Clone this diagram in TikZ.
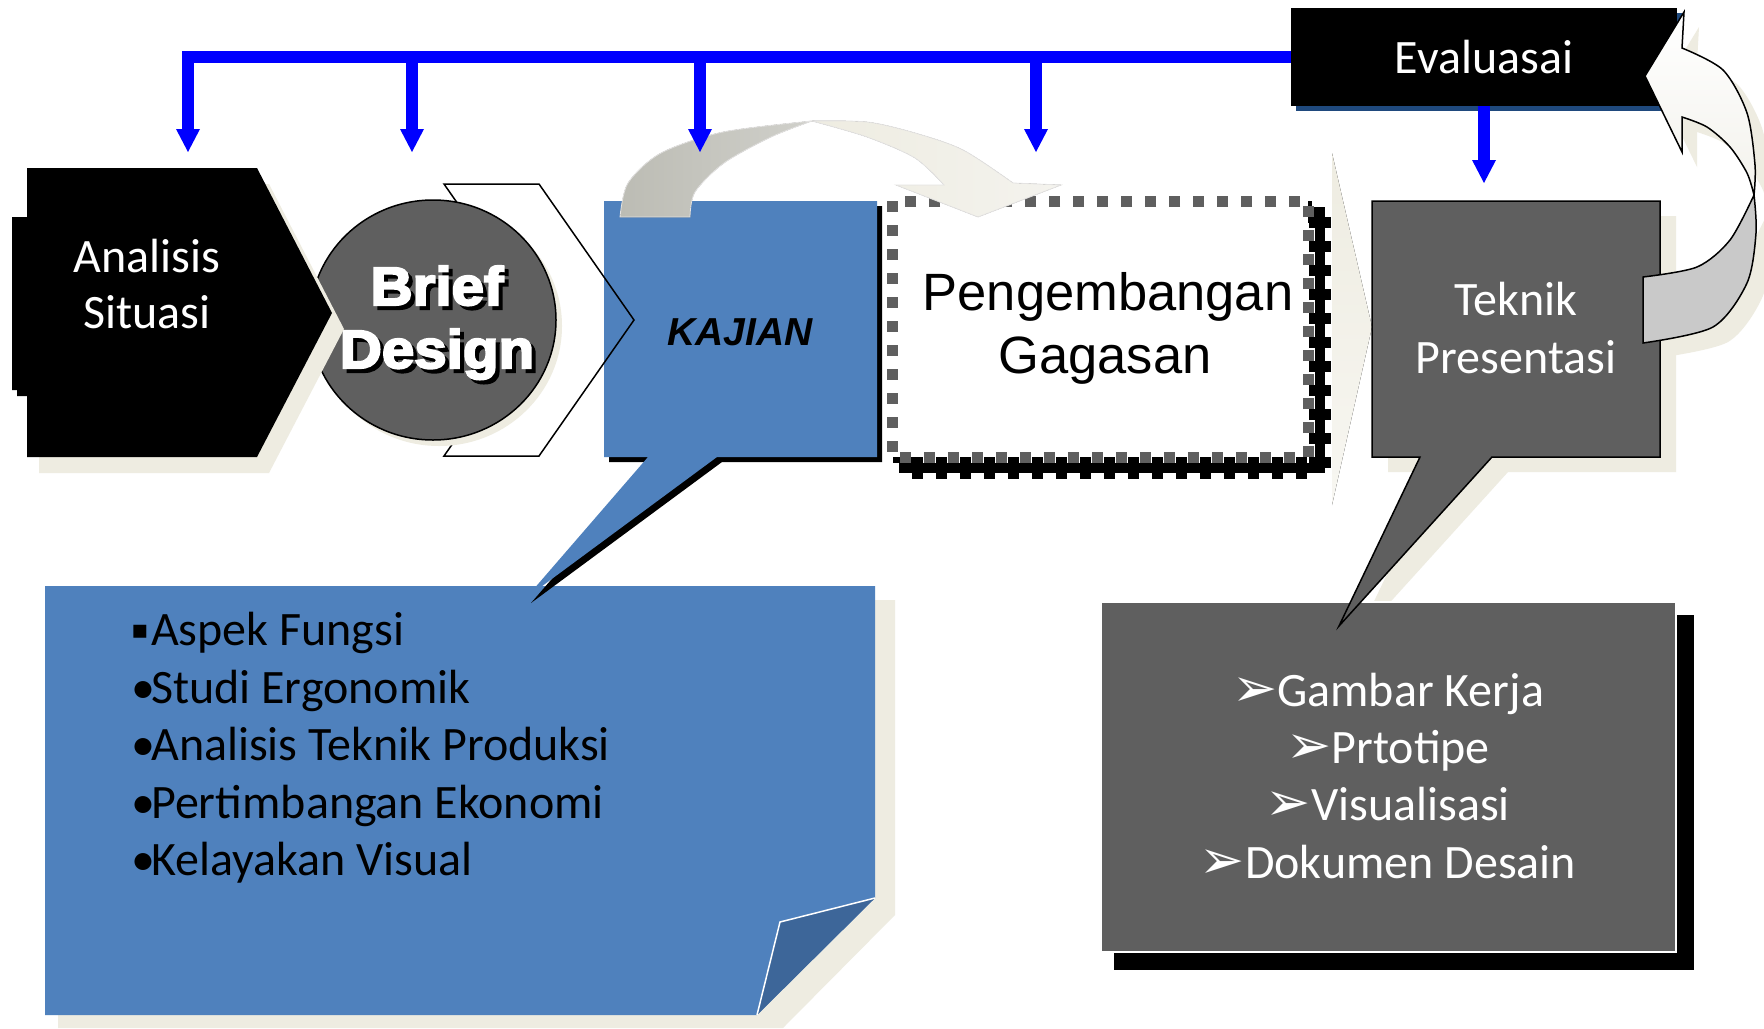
\documentclass[tikz,border=0pt]{standalone}
\usepackage{fontspec}
\setmainfont{Carlito}
\newfontfamily\arialfont{Liberation Sans}
\newfontfamily\heavyfont{Liberation Sans Bold}[FakeBold=4,FakeStretch=1.08]
\newfontfamily\symbolfont{DejaVu Sans}
\usetikzlibrary{arrows.meta}

\definecolor{panelgray}{HTML}{5F5F5F}
\definecolor{noteblue}{HTML}{4F81BD}
\definecolor{foldblue}{HTML}{3D6699}
\definecolor{softshadow}{HTML}{EEECE1}
\definecolor{navy}{HTML}{1F497D}
\definecolor{ribbongray}{HTML}{C9C9C9}
\definecolor{ribbonlight}{HTML}{F3F2EC}
\definecolor{linkblue}{HTML}{0000FF}
\definecolor{arcgray}{HTML}{BCBCB4}
\definecolor{arclight}{HTML}{F4F3EE}

% a heavy white word with a black drop shadow behind it
\newcommand{\shadowword}[1]{\rlap{\kern4pt\raisebox{-4pt}{\color{black}#1}}{\color{white}#1}}
% 3-D arrowhead bullet
\newcommand{\arrowbullet}{{\symbolfont\fontsize{54}{54}\selectfont ➢}}

\begin{document}
\begin{tikzpicture}[x=1pt,y=-1pt,
  txt/.style={inner sep=0pt, anchor=base},
  calibri/.style={txt, font=\fontsize{48}{56}\selectfont},
  listline/.style={calibri, anchor=base west},
  arialtxt/.style={txt, font=\arialfont\fontsize{52.5}{60}\selectfont},
  heavytxt/.style={txt, font=\heavyfont\fontsize{54}{60}\selectfont},
  outlined/.style={draw=black, line width=1.5pt, line join=miter},
  linkline/.style={draw=linkblue, line width=11.5pt, line join=miter,
    -{Triangle[width=24pt,length=23pt,line width=0pt]}},
  arcedge/.style={draw=white!88!softshadow!90!black, line width=0.8pt}
]
\useasboundingbox (0,0) rectangle (1764,1028);
\fill[white] (0,0) rectangle (1764,1028);

% ---------- soft beige shadows ----------
% note panel
\fill[softshadow] (58,600) -- (895,600) -- (895,915) -- (783,1028) -- (58,1028) -- cycle;
% Teknik Presentasi callout
\fill[softshadow, shift={(16,15)}] (1372,201) -- (1660,201) -- (1660,457) -- (1492,457)
  -- (1339,626) -- (1420,457) -- (1372,457) -- cycle;
% return ribbon
\begin{scope}[shift={(15,15)}]
  \fill[softshadow] plot[smooth] coordinates {(1643,343) (1713,327) (1747,283) (1756,233) (1754,195)}
    -- plot[smooth] coordinates {(1754,195) (1730,240) (1697,267) (1643,277)} -- cycle;
  \fill[softshadow] plot[smooth] coordinates {(1754,195) (1755,165) (1747,113) (1723,70) (1682,48)}
    -- (1684,12) -- (1645,76) -- (1682,152) -- (1682,117)
    -- plot[smooth] coordinates {(1682,117) (1707,127) (1730,147) (1747,173) (1754,195)} -- cycle;
\end{scope}
% faint chevron between the idea box and the presentation box
\fill[top color=softshadow, bottom color=softshadow!45!white] (1332,153) -- (1372,327) -- (1332,505) -- cycle;

% ---------- note panel with folded corner ----------
\fill[noteblue] (45,586) -- (875,586) -- (875,898) -- (757,1015) -- (45,1015) -- cycle;
\fill[foldblue] (875,898) -- (780,922) -- (757,1015) -- cycle;
\draw[white, line width=1.5pt] (875,898) -- (780,922) -- (757,1015);
\node[listline] (asp) at (131,645) {\makebox[20pt][l]{\raisebox{7pt}{\symbolfont\fontsize{26}{26}\selectfont ▪}}Aspek Fungsi};
\node[listline] (stu) at (131,703) {\makebox[20pt][l]{•}Studi Ergonomik};
\node[listline] (ana) at (131,760) {\makebox[20pt][l]{•}Analisis Teknik Produksi};
\node[listline] (per) at (131,818) {\makebox[20pt][l]{•}Pertimbangan Ekonomi};
\node[listline] (kel) at (131,875) {\makebox[20pt][l]{•}Kelayakan Visual};

% ---------- output panel ----------
\fill[black] (1114,615) rectangle (1694,970);
\filldraw[fill=panelgray, draw=white, line width=1.5pt] (1101,602) rectangle (1676,952);
\node[calibri, text=white] (out1) at (1388,706) {\arrowbullet Gambar Kerja};
\node[calibri, text=white] (out2) at (1388,763) {\arrowbullet Prtotipe};
\node[calibri, text=white] (out3) at (1388,820) {\arrowbullet Visualisasi};
\node[calibri, text=white] (out4) at (1388,878) {\arrowbullet Dokumen Desain};

% ---------- KAJIAN callout ----------
\fill[black, shift={(5,5)}] (604,201) -- (877,201) -- (877,457) -- (717,457) -- (526,598)
  -- (648,457) -- (604,457) -- cycle;
\fill[noteblue] (604,201) -- (877,201) -- (877,457) -- (717,457) -- (526,598)
  -- (648,457) -- (604,457) -- cycle;
\node[txt, font=\arialfont\bfseries\itshape\fontsize{39}{44}\selectfont] (kajian) at (740,345) {KAJIAN};

% ---------- open chevron behind the Brief Design disc ----------
\draw[outlined] (444,184) -- (539,184) -- (634,320) -- (539,456) -- (444,456) -- (539,320) -- cycle;

% ---------- Brief Design disc ----------
\fill[softshadow] (439,326) ellipse [x radius=123pt, y radius=120pt];
\filldraw[fill=panelgray, outlined] (433,320) ellipse [x radius=123pt, y radius=120pt];
\node[heavytxt] (brief) at (437,305) {\shadowword{Brief}};
\node[heavytxt] (design) at (437,368) {\shadowword{Design}};

% ---------- Analisis Situasi block ----------
\fill[softshadow, shift={(12,16)}] (27,168) -- (257,168) -- (332,313) -- (257,457) -- (27,457) -- cycle;
\fill[black] (27,168) -- (257,168) -- (332,313) -- (257,457) -- (27,457) -- (27,396)
  -- (17,396) -- (17,390) -- (12,390) -- (12,217) -- (27,217) -- cycle;
\node[calibri, text=white] (analisis) at (147,272) {Analisis};
\node[calibri, text=white] (situasi) at (147,328) {Situasi};

% ---------- Pengembangan Gagasan box ----------
\draw[black, line width=10pt] (904,212) rectangle (1320,468);
\draw[black, line width=22pt, dash pattern=on 11pt off 13pt] (904,212) rectangle (1320,468);
\fill[white] (892,201) rectangle (1308,457);
\draw[panelgray, line width=11pt, dash pattern=on 11pt off 13pt] (892,201) rectangle (1308,457);
\node[arialtxt] (peng) at (1108,310) {Pengembangan};
\node[arialtxt] (gagasan) at (1105,373) {Gagasan};

% ---------- ribbon arrow from KAJIAN to the idea box ----------
\filldraw[arcedge, left color=arcgray, right color=arcgray!70!white]
  plot[smooth] coordinates {(620,217) (628,183) (661,153) (723,132) (812,121)}
  -- plot[smooth] coordinates {(812,121) (771,137) (724,163) (695,192) (690,217)} -- cycle;
\filldraw[arcedge, left color=softshadow, right color=arclight]
  plot[smooth] coordinates {(812,121) (867,122) (915,133) (963,150) (1013,183)}
  -- (1061,185) -- (978,217) -- (896,185) -- (944,185)
  -- plot[smooth] coordinates {(944,185) (915,158) (867,137) (812,121)} -- cycle;

% ---------- Teknik Presentasi callout ----------
\filldraw[fill=panelgray, outlined] (1372,201) -- (1660,201) -- (1660,457) -- (1492,457)
  -- (1339,626) -- (1420,457) -- (1372,457) -- cycle;
\node[calibri, text=white] (teknik) at (1516,315) {Teknik};
\node[calibri, text=white] (presentasi) at (1516,373) {Presentasi};

% ---------- Evaluasai box ----------
\fill[navy] (1296,13) rectangle (1682,111);
\node[fill=black, minimum width=386pt, minimum height=98pt, inner sep=0pt] (eval) at (1484,57) {};
\node[calibri, text=white] (evalText) at (1484,73) {Evaluasai};

% ---------- return ribbon from Teknik Presentasi to Evaluasai ----------
\filldraw[fill=ribbongray, outlined]
  plot[smooth] coordinates {(1643,343) (1713,327) (1747,283) (1756,233) (1754,195)}
  -- plot[smooth] coordinates {(1754,195) (1730,240) (1697,267) (1643,277)} -- cycle;
\filldraw[top color=white, bottom color=ribbonlight, outlined]
  plot[smooth] coordinates {(1754,195) (1755,165) (1747,113) (1723,70) (1682,48)}
  -- (1684,12) -- (1645,76) -- (1682,152) -- (1682,117)
  -- plot[smooth] coordinates {(1682,117) (1707,127) (1730,147) (1747,173) (1754,195)} -- cycle;

% ---------- feedback connectors ----------
\coordinate (inAnalisis) at (188,152);
\coordinate (inBrief) at (412,152);
\coordinate (inKajian) at (700,152);
\coordinate (inGagasan) at (1036,152);
\coordinate (inTeknik) at (1484,183);
\draw[linkline] (eval.west) -| (inAnalisis);
\foreach \t in {inBrief,inKajian,inGagasan}
  \draw[linkline] (\t |- eval.west) -- (\t);
\draw[linkline] (eval.south -| inTeknik) -- (inTeknik);
\end{tikzpicture}
\end{document}
